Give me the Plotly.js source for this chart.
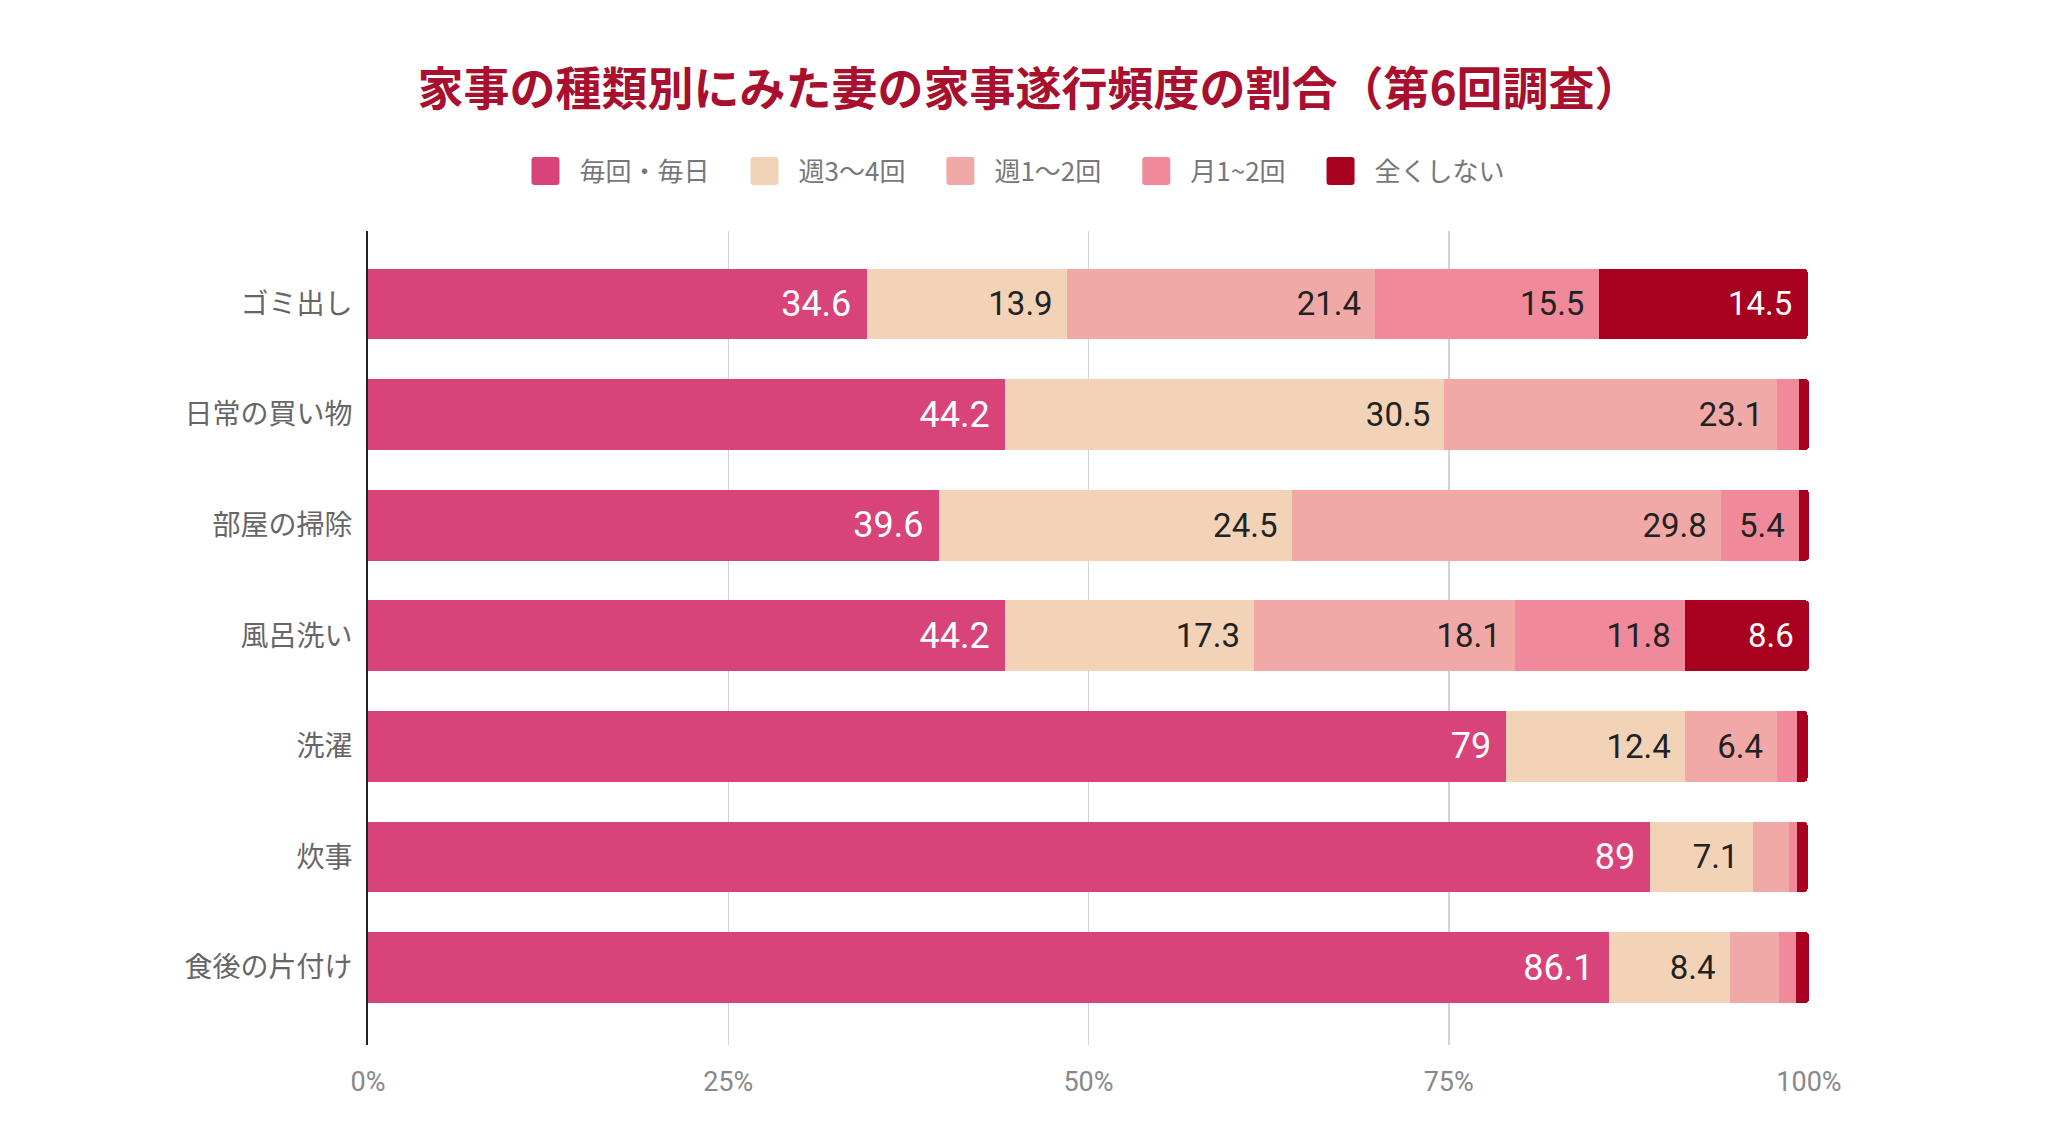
<!DOCTYPE html>
<html>
<head>
<meta charset="utf-8">
<script src="https://cdn.plot.ly/plotly-3.0.1.min.js"></script>
<style>html,body{margin:0;padding:0;background:#fff;}#chart{width:2048px;height:1147px;}</style>
</head>
<body>
<div id="chart"></div>
<script>
const categories = ['ゴミ出し', '日常の買い物', '部屋の掃除', '風呂洗い', '洗濯', '炊事', '食後の片付け'];
const seriesNames = ['毎回・毎日', '週3～4回', '週1～2回', '月1~2回', '全くしない'];
const everyDay   = [34.6, 44.2, 39.6, 44.2, 79,   89,  86.1];
const weekly34   = [13.9, 30.5, 24.5, 17.3, 12.4, 7.1, 8.4];
const weekly12   = [21.4, 23.1, 29.8, 18.1, 6.4,  2.5, 3.4];
const monthly12  = [15.5, 1.5,  5.4,  11.8, 1.4,  0.6, 1.2];
const never      = [14.5, 0.7,  0.7,  8.6,  0.7,  0.7, 0.9];
const tickVals = [0, 25, 50, 75, 100];
const tickText = ['0%', '25%', '50%', '75%', '100%'];

const seriesValues = [everyDay, weekly34, weekly12, monthly12, never];
const colors = ['#d84479', '#f2d3b7', '#f0a9a6', '#f08a9b', '#a8001f'];
const textColors = ['#ffffff', '#222222', '#222222', '#222222', '#ffffff'];
const textSizes = [36, 33, 33, 33, 33];
const FONT = 'Roboto, "Noto Sans CJK JP", sans-serif';
const JP = '"Noto Sans CJK JP", sans-serif';

const traces = seriesValues.map((vals, i) => ({
  type: 'bar',
  orientation: 'h',
  name: seriesNames[i],
  y: categories,
  x: vals,
  marker: {color: colors[i], line: {width: 0}},
  text: vals.map(v => v >= 5 ? String(v) + '\u2004' : ''),
  textposition: 'inside',
  insidetextanchor: 'end',
  textangle: 0,
  textfont: {family: FONT, size: textSizes[i], color: textColors[i]},
  constraintext: 'none',
  hoverinfo: 'x+name'
}));

const layout = {
  width: 2048,
  height: 1147,
  paper_bgcolor: '#ffffff',
  plot_bgcolor: '#ffffff',
  barmode: 'stack',
  bargap: 0.36,
  barcornerradius: 4,
  margin: {l: 368, r: 239, t: 231, b: 102},
  font: {family: FONT, color: '#666666'},
  title: {
    text: '家事の種類別にみた妻の家事遂行頻度の割合（第6回調査）',
    font: {family: JP, size: 46, weight: 700, color: '#a8102e'},
    x: 1029 / 2048, xref: 'container', xanchor: 'center',
    y: 1 - 89/1147, yref: 'container', yanchor: 'middle'
  },
  legend: {
    orientation: 'h',
    x: 1003 / 2048, xref: 'container', xanchor: 'center',
    y: 1 - 171/1147, yref: 'container', yanchor: 'middle',
    font: {family: JP, size: 26, color: '#777777'},
    itemwidth: 74,
    traceorder: 'normal'
  },
  xaxis: {
    range: [0, 100],
    tickvals: tickVals,
    ticktext: tickText,
    showgrid: true,
    gridcolor: '#d4d4d4',
    gridwidth: 1.5,
    zeroline: false,
    showline: false,
    ticks: '',
    ticklabelstandoff: 18,
    tickfont: {family: FONT, size: 27, color: '#888888'},
    fixedrange: true
  },
  yaxis: {
    type: 'category',
    range: [6.7, -0.66],
    showgrid: false,
    zeroline: false,
    showline: true,
    linecolor: '#222222',
    linewidth: 2,
    ticks: '',
    ticklabelstandoff: 8,
    tickfont: {family: JP, size: 28, color: '#666666'},
    fixedrange: true
  },
  showlegend: true
};

function restyleLegend() {
  const items = document.querySelectorAll('#chart .legend .traces');
  const h = 14, r = 3;
  items.forEach(item => {
    const text = item.querySelector('text.legendtext');
    const path = item.querySelector('path.legendbar') || item.querySelector('.legendpoints path');
    if (!text || !path) return;
    const tb = text.getBoundingClientRect();
    const pb = path.getBoundingClientRect();
    const cur = pb.left + pb.width / 2;
    const want = tb.left - 20 - h;
    const cx = want - cur;
    const L = cx - h, R = cx + h;
    path.setAttribute('d',
      `M${L + r},${-h}H${R - r}A${r},${r} 0 0 1 ${R},${-h + r}V${h - r}A${r},${r} 0 0 1 ${R - r},${h}` +
      `H${L + r}A${r},${r} 0 0 1 ${L},${h - r}V${-h + r}A${r},${r} 0 0 1 ${L + r},${-h}Z`);
    path.style.strokeWidth = '0px';
  });
}

Plotly.newPlot('chart', traces, layout, {displayModeBar: false, staticPlot: true}).then(restyleLegend);
</script>
</body>
</html>
